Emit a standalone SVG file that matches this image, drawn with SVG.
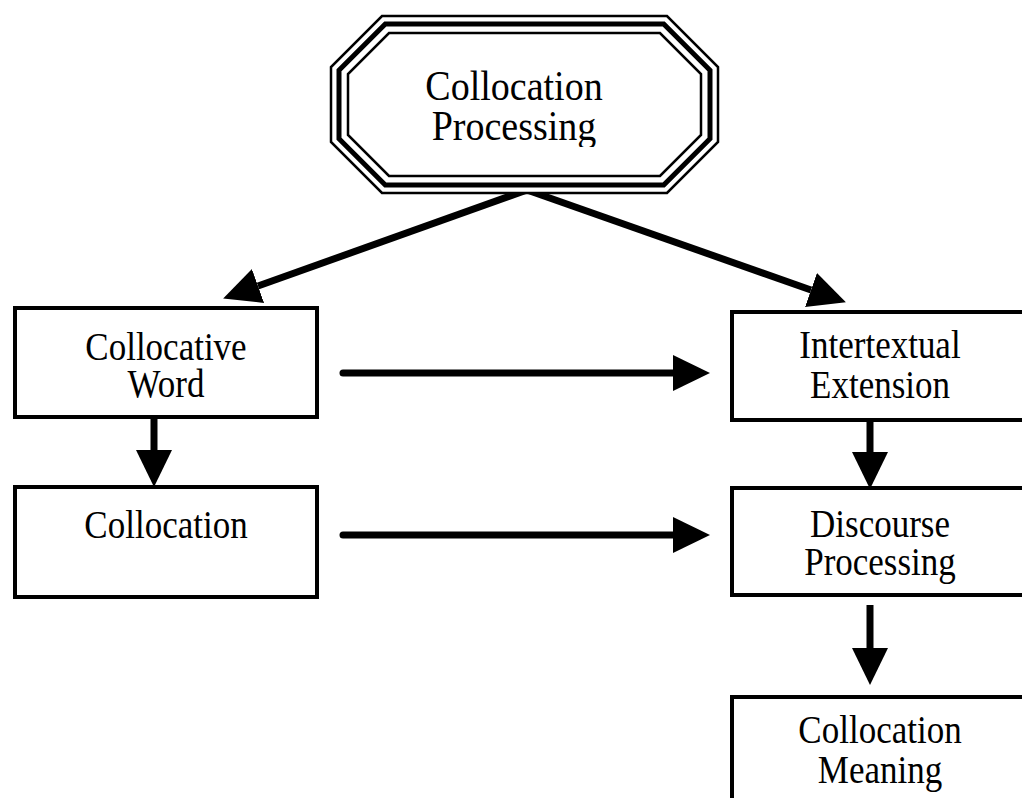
<svg xmlns="http://www.w3.org/2000/svg" width="1022" height="798" viewBox="0 0 1022 798">
  <style>
    .box { fill: #fff; stroke: #000; stroke-width: 4; }
    .lbl { font-family: "Liberation Serif", "Times New Roman", serif; font-size: 35px; fill: #000; text-anchor: middle; }
    .big { font-size: 38px; }
    .oct { fill: none; stroke: #000; stroke-linejoin: miter; }
    .link { fill: none; stroke: #000; stroke-width: 7; }
  </style>
  <defs>
    <marker id="head" viewBox="0 -18 37 36" refX="0" refY="0" markerWidth="37" markerHeight="36" markerUnits="userSpaceOnUse" orient="auto">
      <path d="M0,-18 L37,0 L0,18 z" fill="#000"/>
    </marker>
    <clipPath id="octClip">
      <rect x="330" y="0" width="390" height="147"/>
    </clipPath>
  </defs>
  <rect width="1022" height="798" fill="#fff"/>

  <!-- connectors -->
  <g id="connectors">
    <path class="link" d="M527,190 L258,286" marker-end="url(#head)"/>
    <path class="link" d="M527,190 L811,290" marker-end="url(#head)"/>
    <path class="link" d="M343,373 L673,373" stroke-linecap="round" marker-end="url(#head)"/>
    <path class="link" d="M343,535 L673,535" stroke-linecap="round" marker-end="url(#head)"/>
    <path class="link" d="M154,419 L154,450" marker-end="url(#head)"/>
    <path class="link" d="M870,422 L870,452" marker-end="url(#head)"/>
    <path class="link" d="M870,605 L870,648" marker-end="url(#head)"/>
  </g>

  <!-- start node: triple-outlined octagon -->
  <g id="collocation-processing">
    <polygon points="382,16 667,16 718,67 718,142 667,193 382,193 331,142 331,67" fill="#fff" stroke="none"/>
    <polygon class="oct" stroke-width="2.5" points="382,16 667,16 718,67 718,142 667,193 382,193 331,142 331,67"/>
    <polygon class="oct" stroke-width="5" points="385.3,24 663.7,24 710,70.3 710,138.7 663.7,185 385.3,185 339,138.7 339,70.3"/>
    <polygon class="oct" stroke-width="2.5" points="389,33 660,33 701,74 701,135 660,176 389,176 348,135 348,74"/>
    <g clip-path="url(#octClip)">
      <text class="lbl big" transform="translate(514,100) scale(1,1.13)">Collocation</text>
      <text class="lbl big" transform="translate(514,140) scale(1,1.13)">Processing</text>
    </g>
  </g>

  <g id="collocative-word">
    <rect class="box" x="15" y="308" width="302" height="109"/>
    <text class="lbl" transform="translate(166,360) scale(1,1.15)">Collocative</text>
    <text class="lbl" transform="translate(166,397) scale(1,1.15)">Word</text>
  </g>

  <g id="collocation">
    <rect class="box" x="15" y="487" width="302" height="110"/>
    <text class="lbl" transform="translate(166,538) scale(1,1.15)">Collocation</text>
  </g>

  <g id="intertextual-extension">
    <rect class="box" x="732" y="312" width="300" height="108"/>
    <text class="lbl" transform="translate(880,358) scale(1,1.15)">Intertextual</text>
    <text class="lbl" transform="translate(880,398) scale(1,1.15)">Extension</text>
  </g>

  <g id="discourse-processing">
    <rect class="box" x="732" y="488" width="300" height="107"/>
    <text class="lbl" transform="translate(880,537) scale(1,1.15)">Discourse</text>
    <text class="lbl" transform="translate(880,575) scale(1,1.15)">Processing</text>
  </g>

  <g id="collocation-meaning">
    <rect class="box" x="732" y="697" width="300" height="120"/>
    <text class="lbl" transform="translate(880,743) scale(1,1.15)">Collocation</text>
    <text class="lbl" transform="translate(880,783) scale(1,1.15)">Meaning</text>
  </g>
</svg>
